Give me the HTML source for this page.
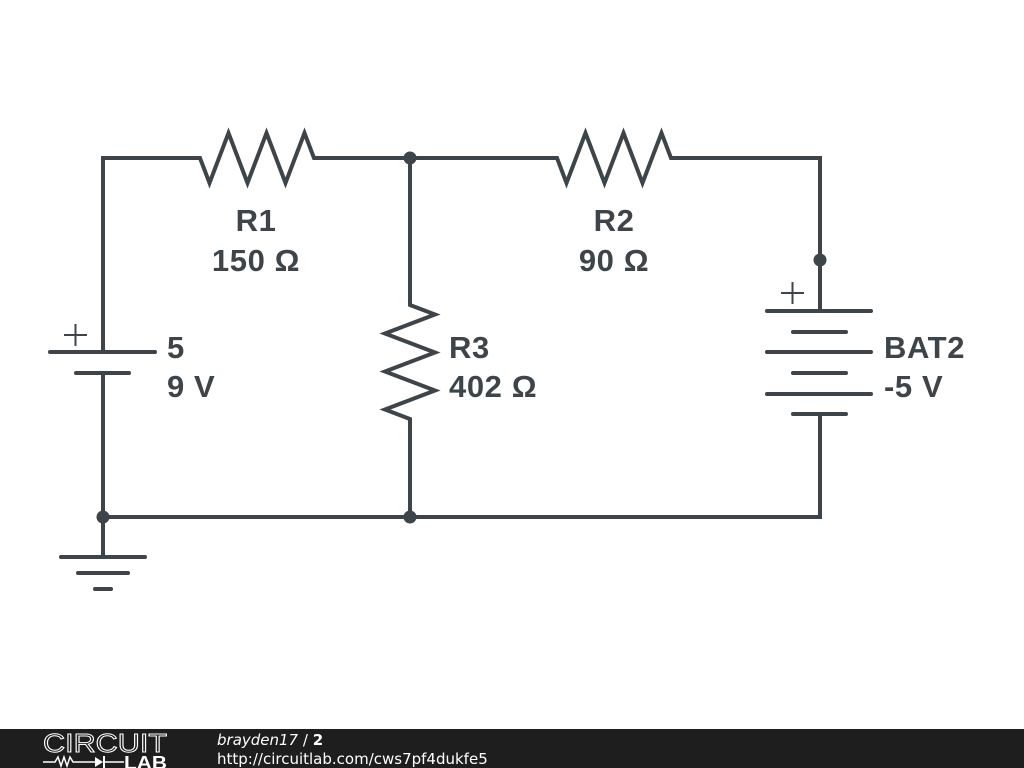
<!DOCTYPE html>
<html><head><style>
html,body{margin:0;padding:0;width:1024px;height:768px;background:#fff;overflow:hidden}
.t{font-family:"Liberation Sans",sans-serif;font-weight:bold;font-size:31px;fill:#3d454a;letter-spacing:0.6px}
</style></head><body>
<svg width="1024" height="768" viewBox="0 0 1024 768" style="position:absolute;left:0;top:0">
<g stroke="#3d454a" stroke-width="4" fill="none" stroke-linecap="round" stroke-linejoin="miter">
<polyline points="103,352 103,158 200,158 209.5,183 228.5,133 247.5,183 266.5,133 285.5,183 304.5,133 314,158 557,158 566.5,183 585.5,133 604.5,183 623.5,133 642.5,183 661.5,133 671,158 820,158 820,311"/>
<line x1="410" y1="158" x2="410" y2="305"/>
<polyline points="410,305 435,314.5 385,333.5 435,352.5 385,371.5 435,390.5 385,409.5 410,419 410,517"/>
<polyline points="103,373 103,517 820,517 820,414"/>
<line x1="103" y1="517" x2="103" y2="557"/>
<line x1="50" y1="352" x2="155" y2="352"/>
<line x1="76" y1="373" x2="129" y2="373"/>
<line x1="767" y1="311" x2="871" y2="311"/>
<line x1="793" y1="332" x2="846" y2="332"/>
<line x1="767" y1="352" x2="871" y2="352"/>
<line x1="793" y1="373" x2="846" y2="373"/>
<line x1="767" y1="394" x2="871" y2="394"/>
<line x1="793" y1="414" x2="846" y2="414"/>
<line x1="61" y1="557" x2="145" y2="557"/>
<line x1="78" y1="573" x2="128" y2="573"/>
<line x1="95" y1="589" x2="111" y2="589"/>
</g>
<g stroke="#3d454a" stroke-width="2">
<line x1="64" y1="335" x2="87" y2="335"/><line x1="75.5" y1="324" x2="75.5" y2="346"/>
<line x1="781" y1="293" x2="804" y2="293"/><line x1="792.5" y1="282" x2="792.5" y2="304"/>
</g>
<g fill="#3d454a">
<circle cx="410" cy="158" r="6.5"/><circle cx="820" cy="260" r="6.5"/>
<circle cx="103" cy="517" r="6.5"/><circle cx="410" cy="517" r="6.5"/>
</g>
<text class="t" x="256" y="231" text-anchor="middle">R1</text>
<text class="t" x="256" y="271" text-anchor="middle">150 Ω</text>
<text class="t" x="614" y="231" text-anchor="middle">R2</text>
<text class="t" x="614" y="271" text-anchor="middle">90 Ω</text>
<text class="t" x="449" y="358">R3</text>
<text class="t" x="449" y="397">402 Ω</text>
<text class="t" x="167" y="358">5</text>
<text class="t" x="167" y="397">9 V</text>
<text class="t" x="884" y="358">BAT2</text>
<text class="t" x="884" y="397">-5 V</text>
<rect x="0" y="729" width="1024" height="39" fill="#1e1e1e"/>
<text x="43" y="752" font-family="Liberation Sans,sans-serif" font-size="26" textLength="124" lengthAdjust="spacingAndGlyphs" fill="none" stroke="#fff" stroke-width="1">CIRCUIT</text>
<polyline points="43,762 55,762 58,757 61,766 64,757 67,766 70,757 73,762 95,762" stroke="#fff" stroke-width="1.5" fill="none"/>
<polygon points="95,757 95,767 103,762" fill="#fff"/><line x1="104" y1="756" x2="104" y2="768" stroke="#fff" stroke-width="2"/>
<line x1="104" y1="762" x2="124" y2="762" stroke="#fff" stroke-width="1.5"/>
<text x="124" y="769" font-family="Liberation Sans,sans-serif" font-weight="bold" font-size="18" textLength="43" lengthAdjust="spacingAndGlyphs" fill="#fff">LAB</text>
<text x="217" y="745" font-family="DejaVu Sans,sans-serif" font-size="15" fill="#fff"><tspan font-style="italic">brayden17</tspan> / <tspan font-weight="bold">2</tspan></text>
<text x="217" y="764" font-family="DejaVu Sans,sans-serif" font-size="15" fill="#fff">http://circuitlab.com/cws7pf4dukfe5</text>
</svg>
</body></html>
